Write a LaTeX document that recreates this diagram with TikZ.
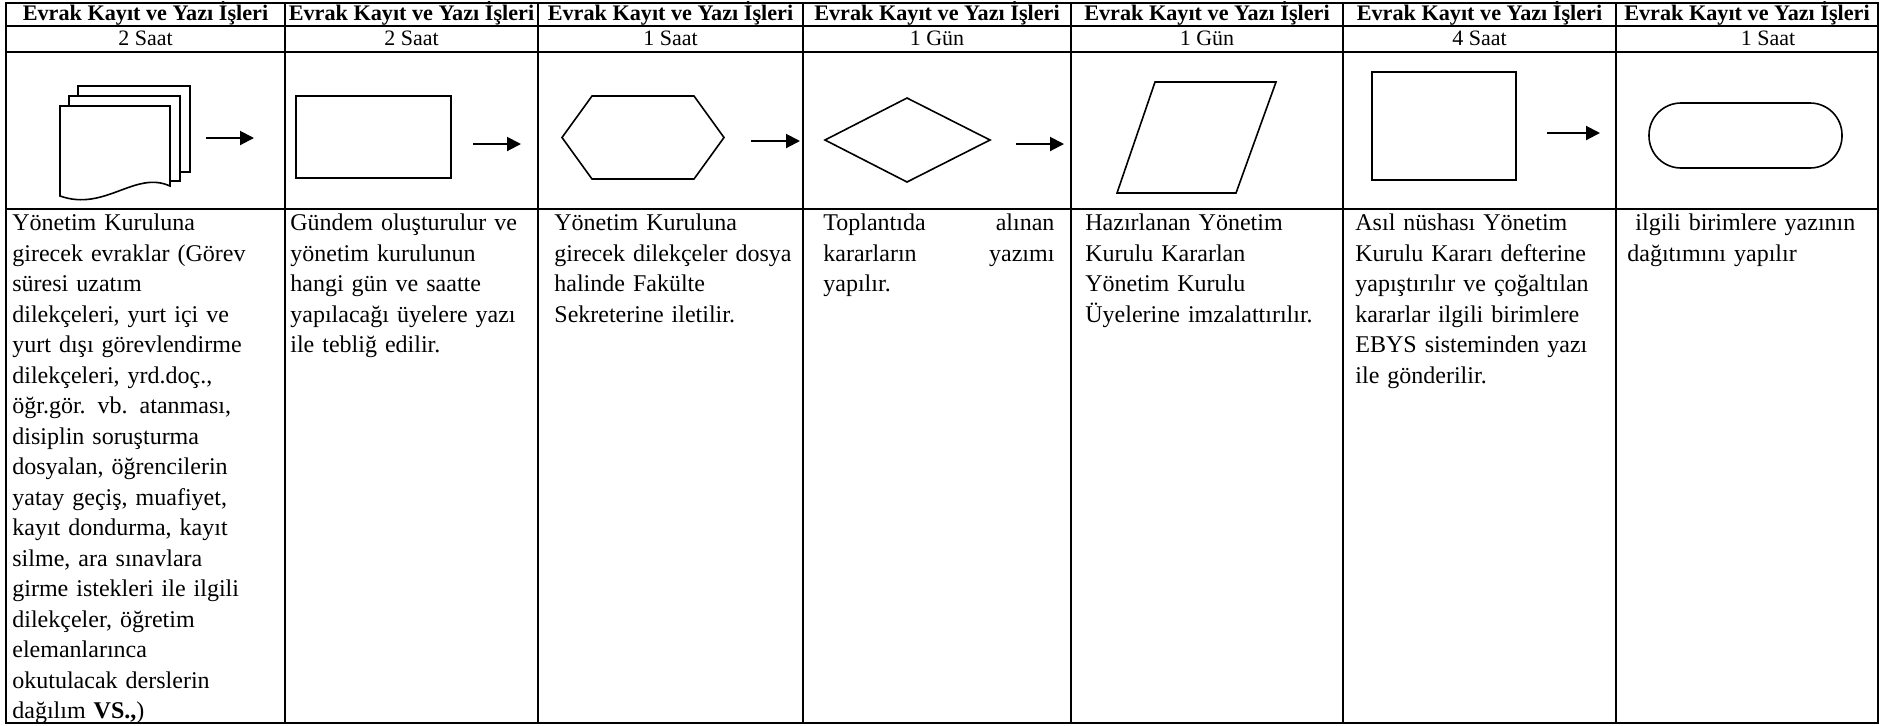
\documentclass[tikz,border=0pt]{standalone}
\usepackage{fontspec}
\setmainfont{Liberation Serif}
\usetikzlibrary{arrows.meta}
\tikzset{
  grid/.style={line width=1pt},
  shp/.style={line width=0.8pt},
  flow/.style={->,line width=1pt},
  head/.style={font=\fontsize{11.1}{13}\selectfont\bfseries,anchor=base,inner sep=0pt},
  dur/.style={font=\fontsize{11}{13}\selectfont,anchor=base,inner sep=0pt},
  body/.style={font=\fontsize{12}{15.25}\selectfont,anchor=base west,inner sep=0pt,text width=130pt,align=left},
}
\begin{document}
\begin{tikzpicture}[>={Triangle[length=7pt,width=7pt]},x=0.5pt,y=-0.5pt]
\useasboundingbox (0,0) rectangle (1884,725);
% tablo
\draw[grid] (6,3) rectangle (1878,723);
\draw[grid] (6,26) -- (1878,26) (6,52) -- (1878,52) (6,209) -- (1878,209);
\foreach \x in {285,538,803,1071,1343,1616} \draw[grid] (\x,3) -- (\x,723);
\foreach \c/\x/\s in {1/145.5/2 Saat,2/411.5/2 Saat,3/670.5/1 Saat,4/937/1 Gün,5/1207/1 Gün,6/1479.5/4 Saat}{
  \node[head] (h\c) at (\x,20) {Evrak Kayıt ve Yazı İşleri};
  \node[dur] (d\c) at (\x,45) {\s};
}
\node[head] (h7) at (1747,20) {Evrak Kayıt ve Yazı İşleri};
\node[dur] (d7) at (1768,45) {1 Saat};

% semboller
\draw[shp,fill=white] (78,86) rectangle (190,172);
\draw[shp,fill=white] (69,96) rectangle (180,181);
\draw[shp,fill=white] (60,106) -- (170,106) -- (170,186) .. controls (135,170) and (105,212) .. (60,196) -- cycle;
\draw[shp] (296,96) rectangle (451,178);
\draw[shp] (562,137.5) -- (592,96) -- (694,96) -- (724,137.5) -- (694,179) -- (592,179) -- cycle;
\draw[shp] (825,140) -- (907,98) -- (990,140) -- (907,182) -- cycle;
\draw[shp] (1117,193) -- (1155,82) -- (1276,82) -- (1236,193) -- cycle;
\draw[shp] (1372,72) rectangle (1516,180);
\draw[shp,rounded corners=16pt] (1649,103) rectangle (1842,168);

% oklar
\coordinate (a1) at (206,138); \coordinate (b1) at (254,138);
\coordinate (a2) at (473,144); \coordinate (b2) at (521,144);
\coordinate (a3) at (751,141); \coordinate (b3) at (800,141);
\coordinate (a4) at (1016,144); \coordinate (b4) at (1064,144);
\coordinate (a6) at (1547,133); \coordinate (b6) at (1600,133);
\foreach \i in {1,2,3,4,6} \draw[flow] (a\i) -- (b\i);

% metinler
\node[body] (t1) at (12,230.5) {Yönetim Kuruluna\\ girecek evraklar (Görev\\ süresi uzatım\\ dilekçeleri, yurt içi ve\\ yurt dışı görevlendirme\\ dilekçeleri, yrd.doç.,\\ öğr.gör. vb. atanması,\\ disiplin soruşturma\\ dosyalan, öğrencilerin\\ yatay geçiş, muafiyet,\\ kayıt dondurma, kayıt\\ silme, ara sınavlara\\ girme istekleri ile ilgili\\ dilekçeler, öğretim\\ elemanlarınca\\ okutulacak derslerin\\ dağılım \textbf{VS.,})};
\node[body] (t2) at (290,230.5) {Gündem oluşturulur ve\\ yönetim kurulunun\\ hangi gün ve saatte\\ yapılacağı üyelere yazı\\ ile tebliğ edilir.};
\node[body] (t3) at (554,230.5) {Yönetim Kuruluna\\ girecek dilekçeler dosya\\ halinde Fakülte\\ Sekreterine iletilir.};
\node[body,text width=115.5pt] (t4) at (823,230.5) {Toplantıda \hfill alınan\\ kararların \hfill yazımı\\ yapılır.};
\node[body] (t5) at (1085,230.5) {Hazırlanan Yönetim\\ Kurulu Kararlan\\ Yönetim Kurulu\\ Üyelerine imzalattırılır.};
\node[body] (t6) at (1355,230.5) {Asıl nüshası Yönetim\\ Kurulu Kararı defterine\\ yapıştırılır ve çoğaltılan\\ kararlar ilgili birimlere\\ EBYS sisteminden yazı\\ ile gönderilir.};
\node[body] (t7) at (1627,230.5) {\ ilgili birimlere yazının\\ dağıtımını yapılır};
\end{tikzpicture}
\end{document}
